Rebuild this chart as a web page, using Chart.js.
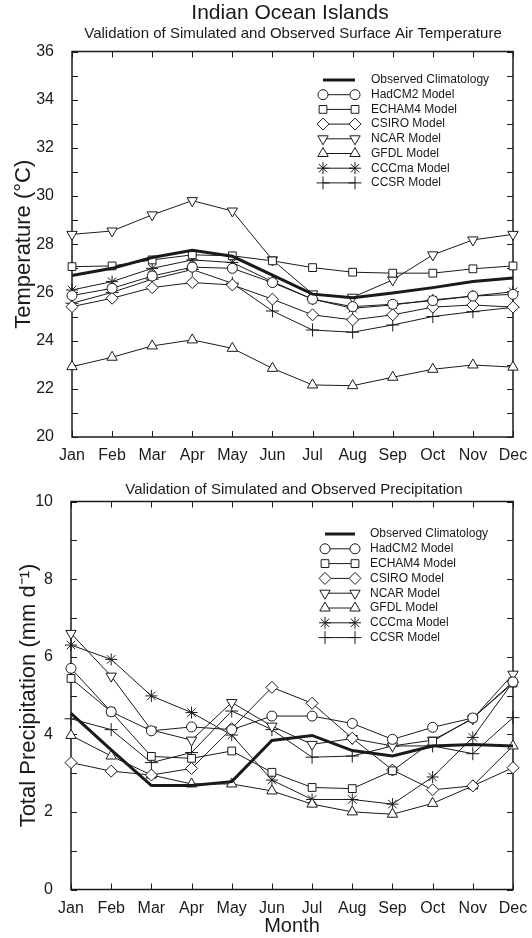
<!DOCTYPE html>
<html>
<head>
<meta charset="utf-8">
<script src="https://cdn.jsdelivr.net/npm/chart.js@4.4.1/dist/chart.umd.min.js"></script>
<style>
  html, body { margin: 0; padding: 0; background: #fff; }
  #wrap { position: relative; width: 532px; height: 938px; }
  canvas { position: absolute; left: 0; }
  #tempChart { top: 0; }
  #precipChart { top: 470px; }
</style>
</head>
<body>
<div id="wrap">
  <canvas id="tempChart" width="532" height="470"></canvas>
  <canvas id="precipChart" width="532" height="468"></canvas>
</div>
<script>
// Monthly climatology, Indian Ocean Islands
const months = ['Jan', 'Feb', 'Mar', 'Apr', 'May', 'Jun', 'Jul', 'Aug', 'Sep', 'Oct', 'Nov', 'Dec'];
const seriesNames = ['Observed Climatology', 'HadCM2 Model', 'ECHAM4 Model', 'CSIRO Model',
                     'NCAR Model', 'GFDL Model', 'CCCma Model', 'CCSR Model'];

// Surface air temperature (°C)
const observedTemp = [26.7, 27.0, 27.45, 27.75, 27.5, 26.72, 25.93, 25.78, 25.98, 26.2, 26.45, 26.6];
const hadcm2Temp   = [25.87, 26.17, 26.68, 27.05, 27.0, 26.41, 25.72, 25.41, 25.51, 25.66, 25.85, 25.92];
const echam4Temp   = [27.07, 27.1, 27.35, 27.56, 27.52, 27.31, 27.03, 26.84, 26.8, 26.8, 26.98, 27.1];
const csiroTemp    = [25.41, 25.76, 26.2, 26.41, 26.31, 25.72, 25.07, 24.86, 25.07, 25.39, 25.48, 25.39];
const ncarTemp     = [28.41, 28.55, 29.22, 29.81, 29.38, 27.35, 25.94, 25.8, 26.52, 27.56, 28.18, 28.41];
const gfdlTemp     = [22.92, 23.31, 23.78, 24.03, 23.68, 22.85, 22.16, 22.13, 22.48, 22.81, 22.99, 22.9];
const cccmaTemp    = [26.1, 26.45, 27.0, 27.35, 27.24, 26.45, 25.72, 25.34, 25.48, 25.69, 25.85, 26.03];
const ccsrTemp     = [25.55, 26.0, 26.55, 26.95, 26.38, 25.23, 24.44, 24.35, 24.65, 25.0, 25.2, 25.38];

// Total precipitation (mm/day)
const observedPrecip = [4.54, 3.6, 2.68, 2.68, 2.78, 3.84, 3.97, 3.58, 3.44, 3.7, 3.74, 3.7];
const hadcm2Precip   = [5.7, 4.58, 4.09, 4.19, 4.12, 4.47, 4.47, 4.28, 3.87, 4.18, 4.42, 5.35];
const echam4Precip   = [5.44, 4.58, 3.43, 3.38, 3.57, 3.02, 2.63, 2.6, 3.06, 3.82, 4.42, 5.32];
const csiroPrecip    = [3.27, 3.05, 2.95, 3.12, 4.15, 5.21, 4.8, 3.9, 3.08, 2.57, 2.67, 3.14];
const ncarPrecip     = [6.6, 5.5, 4.11, 3.85, 4.82, 4.21, 3.74, 3.89, 3.7, 3.85, 4.4, 5.55];
const gfdlPrecip     = [3.97, 3.44, 2.95, 2.72, 2.72, 2.54, 2.2, 2.0, 1.94, 2.22, 2.67, 3.7];
const cccmaPrecip    = [6.3, 5.93, 4.99, 4.56, 3.98, 2.82, 2.32, 2.32, 2.2, 2.9, 3.92, 5.35];
const ccsrPrecip     = [4.4, 4.12, 3.27, 3.53, 4.6, 4.12, 3.41, 3.44, 3.7, 3.7, 3.5, 4.43];

const FONT = "'Liberation Sans', Arial, Helvetica, sans-serif";
const INK = '#1a1a1a';
Chart.defaults.font.family = FONT;
Chart.defaults.color = INK;

// Marker look for each series (observed has no markers, only a heavy line)
const markerStyles = [
  { pointStyle: false, radius: 0, rotation: 0, lineWidth: 3 },
  { pointStyle: 'circle', radius: 5, rotation: 0, lineWidth: 1 },
  { pointStyle: 'rect', radius: 5.5, rotation: 0, lineWidth: 1 },
  { pointStyle: 'rectRot', radius: 6, rotation: 0, lineWidth: 1 },
  { pointStyle: 'triangle', radius: 6, rotation: 180, lineWidth: 1 },
  { pointStyle: 'triangle', radius: 6, rotation: 0, lineWidth: 1 },
  { pointStyle: 'star', radius: 6, rotation: 0, lineWidth: 1 },
  { pointStyle: 'cross', radius: 6.5, rotation: 0, lineWidth: 1 }
];

function buildDatasets(seriesList) {
  return seriesList.map((values, i) => {
    const m = markerStyles[i];
    return {
      label: seriesNames[i],
      data: values,
      borderColor: INK,
      borderWidth: m.lineWidth,
      backgroundColor: '#fff',
      pointStyle: m.pointStyle,
      pointRadius: m.radius,
      pointRotation: m.rotation,
      pointBorderColor: INK,
      pointBackgroundColor: '#fff',
      pointBorderWidth: 1,
      tension: 0,
      fill: false,
      clip: false,
      order: i === 0 ? -1 : i
    };
  });
}

// Box around the plot with inward tick marks on all four sides
const frameTicks = {
  id: 'frameTicks',
  beforeDatasetsDraw(chart) {
    const { ctx, chartArea: a, scales: { x, y } } = chart;
    const L = 6;
    ctx.save();
    ctx.strokeStyle = INK;
    ctx.lineWidth = 1;
    ctx.beginPath();
    x.ticks.forEach((t, i) => {
      const px = Math.round(x.getPixelForTick(i)) + 0.5;
      ctx.moveTo(px, a.bottom); ctx.lineTo(px, a.bottom - L);
      ctx.moveTo(px, a.top); ctx.lineTo(px, a.top + L);
    });
    y.ticks.forEach(t => {
      const py = Math.round(y.getPixelForValue(t.value)) + 0.5;
      ctx.moveTo(a.left, py); ctx.lineTo(a.left + L, py);
      ctx.moveTo(a.right, py); ctx.lineTo(a.right - L, py);
    });
    ctx.stroke();
    ctx.lineWidth = 1.5;
    ctx.strokeRect(a.left, a.top, a.right - a.left, a.bottom - a.top);
    ctx.restore();
  }
};

// Heading lines drawn above the plot
const headings = {
  id: 'headings',
  afterDraw(chart, args, opts) {
    const { ctx } = chart;
    ctx.save();
    ctx.fillStyle = INK;
    ctx.textAlign = 'center';
    ctx.textBaseline = 'middle';
    (opts.lines || []).forEach(l => {
      ctx.font = l.size + 'px ' + FONT;
      ctx.fillText(l.text, l.x, l.y);
    });
    ctx.restore();
  }
};

// Key inside the plot: a short line with the marker at each end, then the name
const sideKey = {
  id: 'sideKey',
  afterDraw(chart, args, opts) {
    const { ctx } = chart;
    ctx.save();
    ctx.font = opts.fontSize + 'px ' + FONT;
    ctx.textBaseline = 'middle';
    ctx.textAlign = 'left';
    chart.data.datasets.forEach((ds, i) => {
      const yy = opts.y0 + i * opts.dy;
      ctx.strokeStyle = INK;
      ctx.lineWidth = ds.borderWidth;
      ctx.beginPath();
      ctx.moveTo(opts.x1, yy);
      ctx.lineTo(opts.x2, yy);
      ctx.stroke();
      if (ds.pointStyle) {
        const pt = { pointStyle: ds.pointStyle, radius: ds.pointRadius, rotation: ds.pointRotation, borderWidth: 1 };
        ctx.fillStyle = '#fff';
        ctx.strokeStyle = INK;
        ctx.lineWidth = 1;
        [opts.x1, opts.x2].forEach(px => Chart.helpers.drawPoint(ctx, pt, px, yy));
      }
      ctx.fillStyle = INK;
      ctx.fillText(ds.label, opts.xText, yy);
    });
    ctx.restore();
  }
};

function makeChart(canvasId, cfg) {
  return new Chart(document.getElementById(canvasId), {
    type: 'line',
    data: { labels: months, datasets: buildDatasets(cfg.series) },
    plugins: [frameTicks, headings, sideKey],
    options: {
      responsive: false,
      animation: false,
      devicePixelRatio: 1,
      layout: { padding: { top: cfg.padTop, right: 19, left: 0, bottom: 0 } },
      plugins: {
        legend: { display: false },
        tooltip: { enabled: false },
        headings: { lines: cfg.headings },
        sideKey: cfg.key
      },
      scales: {
        x: {
          type: 'category',
          offset: false,
          grid: { display: false },
          border: { display: false },
          ticks: { autoSkip: false, maxRotation: 0, padding: 1, font: { size: 16 }, color: INK },
          title: cfg.xTitle,
          afterFit(s) { s.height = cfg.xHeight; }
        },
        y: {
          min: cfg.yMin,
          max: cfg.yMax,
          grid: { display: false },
          border: { display: false },
          ticks: {
            stepSize: 1,
            autoSkip: false,
            padding: 10,
            font: { size: 16 },
            color: INK,
            callback: v => (v % 2 === 0 ? String(v) : '')
          },
          title: cfg.yTitle,
          afterFit(s) { s.width = cfg.yWidth; }
        }
      }
    }
  });
}

makeChart('tempChart', {
  series: [observedTemp, hadcm2Temp, echam4Temp, csiroTemp, ncarTemp, gfdlTemp, cccmaTemp, ccsrTemp],
  yMin: 20, yMax: 36,
  padTop: 51.5, xHeight: 33, yWidth: 72,
  yTitle: { display: true, text: 'Temperature (°C)', font: { size: 22 }, color: INK, padding: { top: 11, bottom: 0 } },
  xTitle: { display: false },
  headings: [
    { text: 'Indian Ocean Islands', x: 290, y: 13, size: 21 },
    { text: 'Validation of Simulated and Observed Surface Air Temperature', x: 293, y: 34, size: 15 }
  ],
  key: { x1: 323, x2: 355, xText: 371, y0: 80, dy: 14.7, fontSize: 12 }
});

makeChart('precipChart', {
  series: [observedPrecip, hadcm2Precip, echam4Precip, csiroPrecip, ncarPrecip, gfdlPrecip, cccmaPrecip, ccsrPrecip],
  yMin: 0, yMax: 10,
  padTop: 31.5, xHeight: 48.5, yWidth: 71,
  yTitle: { display: true, text: 'Total Precipitation (mm d⁻¹)', font: { size: 22 }, color: INK, padding: { top: 16, bottom: 0 } },
  xTitle: { display: true, text: 'Month', font: { size: 20 }, color: INK, padding: { top: 0, bottom: 0 } },
  headings: [
    { text: 'Validation of Simulated and Observed Precipitation', x: 294, y: 20, size: 15 }
  ],
  key: { x1: 325, x2: 355, xText: 370, y0: 64, dy: 14.8, fontSize: 12 }
});
</script>
</body>
</html>
